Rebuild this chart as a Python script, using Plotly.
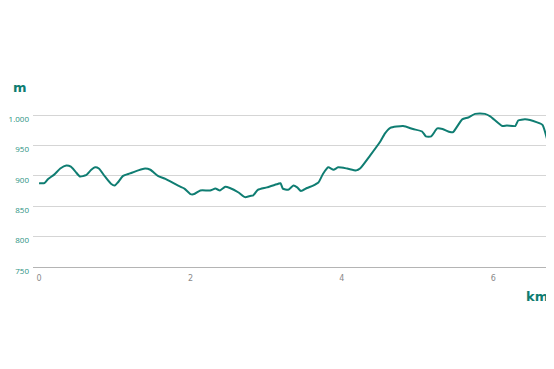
import plotly.graph_objects as go

distance_km = [0.00, 0.07, 0.12, 0.20, 0.28, 0.36, 0.42, 0.48, 0.54, 0.62, 0.69, 0.74, 0.79, 0.87, 0.95,
               1.00, 1.04, 1.11, 1.20, 1.31, 1.40, 1.47, 1.57, 1.67, 1.82, 1.92, 2.00, 2.05, 2.13, 2.26,
               2.33, 2.39, 2.46, 2.52, 2.63, 2.72, 2.79, 2.83, 2.89, 3.01, 3.16, 3.19, 3.22, 3.29, 3.36,
               3.41, 3.46, 3.54, 3.62, 3.69, 3.75, 3.82, 3.89, 3.95, 4.07, 4.19, 4.24, 4.37, 4.51, 4.57,
               4.64, 4.81, 4.94, 5.06, 5.11, 5.18, 5.26, 5.33, 5.43, 5.47, 5.59, 5.67, 5.76, 5.89, 5.96,
               6.12, 6.18, 6.29, 6.33, 6.42, 6.58, 6.65, 6.71]
elevation_m = [888, 888, 895, 902, 912, 917, 915, 907, 899, 901, 910, 914, 912, 899, 887,
               884, 889, 900, 904, 909, 912, 910, 900, 895, 885, 879, 870, 870, 876, 876,
               879, 876, 882, 880, 873, 865, 867, 868, 877, 881, 887, 888, 879, 877, 884,
               881, 875, 880, 884, 889, 903, 914, 910, 914, 912, 909, 912, 933, 957, 970,
               979, 982, 977, 973, 965, 965, 978, 977, 972, 972, 993, 996, 1002, 1002, 998,
               982, 983, 982, 991, 993, 988, 984, 961]
x_ticks = [0, 2, 4, 6]
y_ticks = [750, 800, 850, 900, 950, 1000]

TEAL = "#0f7d72"
LABEL_TEAL = "#2a9282"
GRID = "#d5d5d5"
AXIS = "#b4b4b4"
FONT = "DejaVu Sans"
LABEL_FONT = "Open Sans"

fig = go.Figure(go.Scatter(
    x=distance_km, y=elevation_m, mode="lines",
    line=dict(color=TEAL, width=2, shape="spline", smoothing=0.5),
    hoverinfo="skip",
))

# the page body adds an 8px margin, so the figure is sized to fit inside it
fig.update_layout(
    width=546, height=361,
    margin=dict(l=25, r=7, t=101, b=102),
    paper_bgcolor="white", plot_bgcolor="white",
    showlegend=False,
    separators=",.",
    font=dict(family=FONT),
    xaxis=dict(
        range=[-0.08, 6.71], tickvals=x_ticks, showgrid=False, zeroline=False,
        showline=True, linecolor=AXIS, linewidth=1, automargin=False,
        tickfont=dict(size=8, color="#8a8a8a", family=FONT),
        ticks="", ticklabelstandoff=3,
    ),
    yaxis=dict(
        range=[750, 1010], tickvals=y_ticks, tickformat=",",
        showgrid=True, gridcolor=GRID, gridwidth=1, zeroline=False, automargin=False,
        tickfont=dict(size=8, color=LABEL_TEAL, family=LABEL_FONT),
        ticks="", ticklabelstandoff=3, ticklabelshift=4,
    ),
    annotations=[
        dict(text="<b>m</b>", xref="paper", yref="paper", x=-0.025, y=1.139,
             xanchor="center", yanchor="middle",
             showarrow=False, font=dict(size=13, color=TEAL, family=FONT)),
        dict(text="<b>km</b>", xref="paper", yref="paper", x=0.98, y=-0.184,
             xanchor="center", yanchor="middle",
             showarrow=False, font=dict(size=13, color=TEAL, family=FONT)),
    ],
)

fig.write_html("out.html")
